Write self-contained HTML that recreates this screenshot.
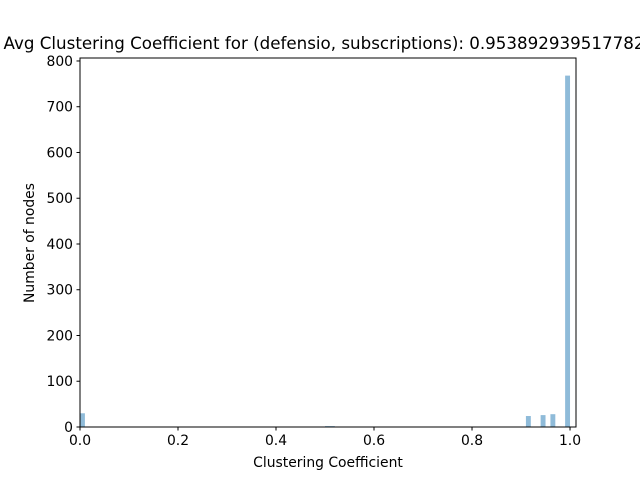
<!DOCTYPE html>
<html><head><meta charset="utf-8"><style>
body{margin:0;background:#fff;}
svg{font-family:"DejaVu Sans","Liberation Sans",sans-serif;}
</style></head><body>
<svg id="chart" width="640" height="480" viewBox="0 0 640 480">
<rect width="640" height="480" fill="#fff"/>
<text x="324" y="49" font-size="16.7" text-anchor="middle">Avg Clustering Coefficient for (defensio, subscriptions): 0.953892939517782</text>
<g id="bars"></g>
<g id="axes"></g>
<text x="328" y="467" font-size="13.9" text-anchor="middle">Clustering Coefficient</text>
<text x="34" y="243" font-size="13.9" text-anchor="middle" transform="rotate(-90 34 243)">Number of nodes</text>
</svg>
<script>
const binStarts=[0.0,0.50,0.51,0.91,0.94,0.96,0.99];
const counts=[30,2,2,24,26,28,768];
const xTicks=[0,0.2,0.4,0.6,0.8,1.0];
const xTickLabels=["0.0","0.2","0.4","0.6","0.8","1.0"];
const yTicks=[0,100,200,300,400,500,600,700,800];
const binWidth=0.01;
const L=80,R=576,T=58,B=427;
const xMin=0,xMax=1.0122,yMin=0,yMax=806.5;
const xs=v=>L+(v-xMin)/(xMax-xMin)*(R-L);
const ys=v=>B-(v-yMin)/(yMax-yMin)*(B-T);
const NS="http://www.w3.org/2000/svg";
const bars=document.getElementById('bars'),axes=document.getElementById('axes');
function mk(tag,attrs,parent){const e=document.createElementNS(NS,tag);for(const k in attrs)e.setAttribute(k,attrs[k]);parent.appendChild(e);return e;}
binStarts.forEach((b,i)=>{
 const r=mk('rect',{x:xs(b),y:ys(counts[i]),width:xs(b+binWidth)-xs(b),height:ys(0)-ys(counts[i]),fill:'#1f77b4','fill-opacity':0.5},bars);
 
 
});
const frame=mk('rect',{x:L,y:T,width:R-L,height:B-T,fill:'none',stroke:'#000','stroke-width':1},axes);


xTicks.forEach((t,i)=>{
 const x=xs(t);
 mk('line',{x1:x,x2:x,y1:B,y2:B+3.5,stroke:'#000'},axes);
 const tx=mk('text',{x:x,y:B+18,'font-size':13.9,'text-anchor':'middle'},axes);
 tx.textContent=xTickLabels[i];
 
 
});
yTicks.forEach(t=>{
 const y=ys(t);
 mk('line',{x1:L-3.5,x2:L,y1:y,y2:y,stroke:'#000'},axes);
 const tx=mk('text',{x:L-7,y:y+5,'font-size':13.9,'text-anchor':'end'},axes);
 tx.textContent=t;
 
 
});
</script>
</body></html>
